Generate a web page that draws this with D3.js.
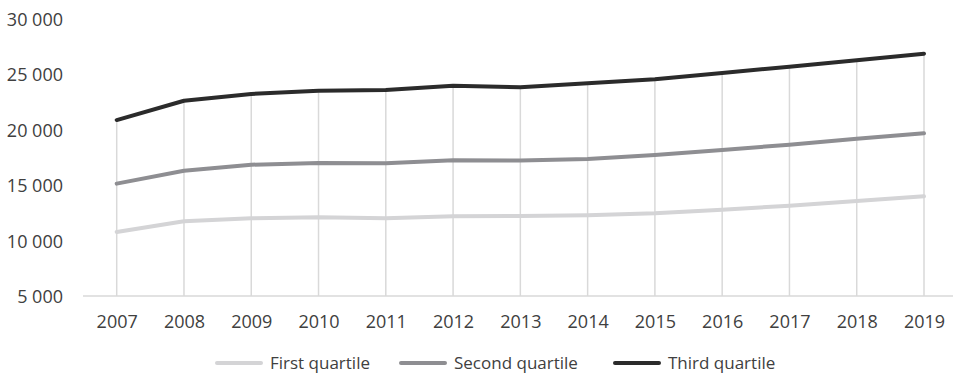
<!DOCTYPE html>
<html>
<head>
<meta charset="utf-8">
<script src="https://cdn.jsdelivr.net/npm/d3@7"></script>
<style>
  html, body { margin: 0; padding: 0; background: #ffffff; }
  svg { display: block; }
  text { font-family: "Open Sans", "Noto Sans", sans-serif; fill: #404040; }
</style>
</head>
<body>
<svg id="chart" width="953" height="375"></svg>
<script>
// Income quartiles by year
const years = ["2007","2008","2009","2010","2011","2012","2013","2014","2015","2016","2017","2018","2019"];
const firstQuartile  = [10780, 11740, 12010, 12100, 12010, 12190, 12220, 12280, 12460, 12790, 13150, 13570, 14000];
const secondQuartile = [15140, 16310, 16850, 17000, 16980, 17250, 17220, 17370, 17730, 18180, 18660, 19200, 19680];
const thirdQuartile  = [20880, 22620, 23240, 23530, 23590, 23980, 23850, 24200, 24570, 25130, 25700, 26270, 26870];
const yTicks = [5000, 10000, 15000, 20000, 25000, 30000];

const seriesNames = ["First quartile", "Second quartile", "Third quartile"];
const seriesColors = ["#d4d4d6", "#8e8e92", "#2b2b2b"];
const seriesValues = [firstQuartile, secondQuartile, thirdQuartile];

const svg = d3.select("#chart");

const x = d3.scalePoint().domain(years).range([116.7, 924]);
const y = d3.scaleLinear().domain([5000, 30000]).range([296, 19]);

const fmt = v => d3.format(",")(v).replace(/,/g, " ");

// Drop lines from the highest series down to the axis
svg.append("g")
  .selectAll("line")
  .data(years)
  .join("line")
  .attr("x1", d => x(d)).attr("x2", d => x(d))
  .attr("y1", (d, i) => y(thirdQuartile[i]))
  .attr("y2", y(5000))
  .attr("stroke", "#d9d9d9")
  .attr("stroke-width", 1.5);

// Category axis
const xAxis = svg.append("g")
  .attr("transform", `translate(0,${y(5000)})`)
  .call(d3.axisBottom(x).tickSize(0).tickPadding(0));
xAxis.select(".domain").remove();
xAxis.append("line")
  .attr("x1", 83).attr("x2", 958)
  .attr("stroke", "#d9d9d9").attr("stroke-width", 1.5);
xAxis.selectAll(".tick text")
  .attr("y", 26)
  .attr("dy", "0.36em")
  .attr("font-size", 18).attr("fill", "#404040")
  .style("font-family", "'Open Sans', sans-serif");

// Value axis (labels only)
const yAxis = svg.append("g")
  .attr("transform", "translate(63,0)")
  .call(d3.axisLeft(y).tickValues(yTicks).tickFormat(fmt).tickSize(0).tickPadding(0));
yAxis.select(".domain").remove();
yAxis.selectAll("text")
  .attr("font-size", 18).attr("fill", "#404040")
  .attr("dy", "0.36em")
  .style("font-family", "'Open Sans', sans-serif");

// Series lines
const line = d3.line().x((d, i) => x(years[i])).y(d => y(d));
svg.append("g")
  .selectAll("path")
  .data(seriesValues)
  .join("path")
  .attr("d", d => line(d))
  .attr("fill", "none")
  .attr("stroke", (d, i) => seriesColors[i])
  .attr("stroke-width", 4)
  .attr("stroke-linejoin", "round")
  .attr("stroke-linecap", "round");

// Legend
const legendX = [216, 400, 614];
const legend = svg.append("g").attr("transform", "translate(0,363)");
const items = legend.selectAll("g")
  .data(seriesNames)
  .join("g")
  .attr("transform", (d, i) => `translate(${legendX[i]},0)`);
items.append("line")
  .attr("x1", 1).attr("x2", 45)
  .attr("stroke", (d, i) => seriesColors[i])
  .attr("stroke-width", 4)
  .attr("stroke-linecap", "round");
items.append("text")
  .attr("x", 54)
  .attr("dy", "0.36em")
  .attr("font-size", 17)
  .text(d => d);
</script>
</body>
</html>
